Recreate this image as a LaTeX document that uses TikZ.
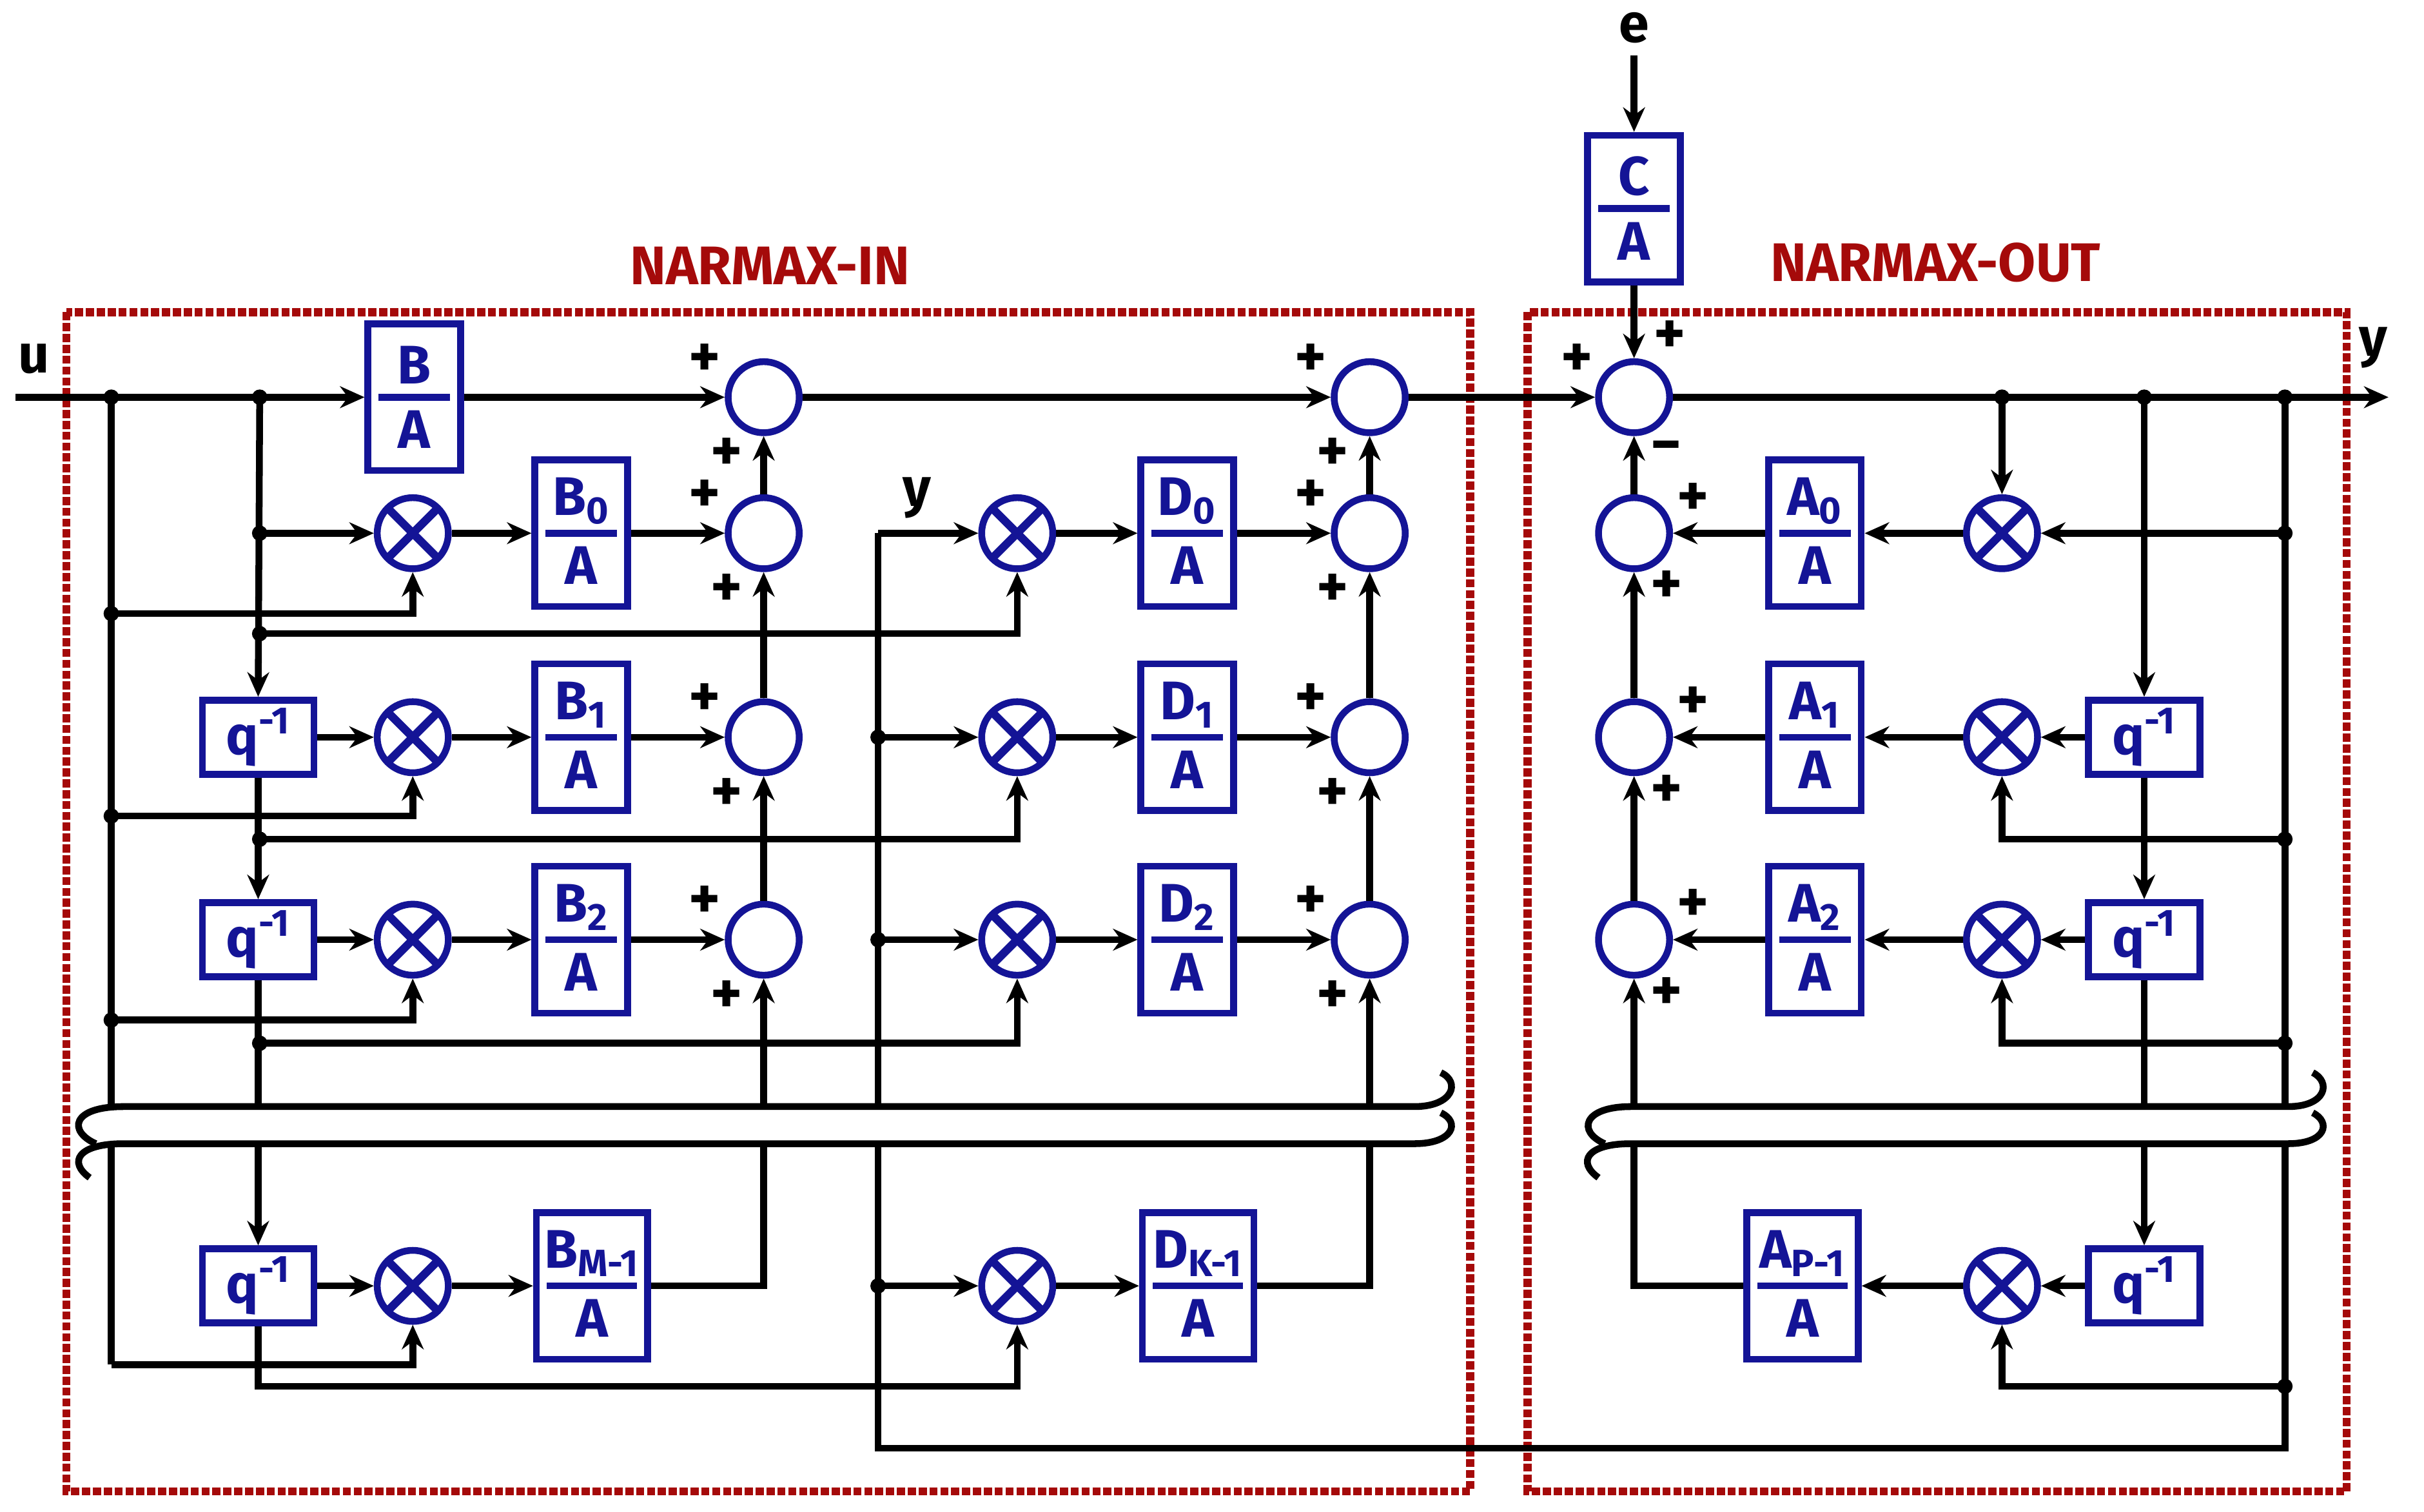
\documentclass[tikz,border=0pt]{standalone}
\usepackage{fontspec}
\setmainfont{Fira Sans}
\usetikzlibrary{arrows.meta}
\definecolor{bl}{RGB}{20,20,150}
\definecolor{rd}{RGB}{165,10,10}
\newcommand\fracbox[4]{%
 \node[box,minimum width=#4*0.02cm] (#1) at #2 {};
 \node[lab] at ([yshift=0.42cm]#1.center) {#3};
 \node[lab] at ([yshift=-0.42cm]#1.center) {A};
 \draw[bl,line width=2.5pt] ([xshift=0.18cm]#1.west) -- ([xshift=-0.18cm]#1.east);}
\begin{document}
\begin{tikzpicture}[x=0.02cm,y=-0.02cm,
 lab/.style={text=bl,font=\fontsize{20}{24}\selectfont\bfseries,inner sep=0},
 box/.style={draw=bl,line width=2.5pt,minimum height=1.9cm,fill=white,inner sep=0},
 qb/.style={draw=bl,line width=2.5pt,minimum width=1.44cm,minimum height=0.96cm,fill=white,text=bl,font=\fontsize{20}{24}\selectfont\bfseries,inner sep=0},
 sum/.style={circle,draw=bl,line width=2.5pt,minimum size=0.92cm,fill=white,inner sep=0},
 mul/.style={sum,path picture={\draw[bl,line width=3pt] (path picture bounding box.center) ++(45:0.46cm) -- ++(225:0.92cm) (path picture bounding box.center) ++(135:0.46cm) -- ++(-45:0.92cm);}},
 arr/.style={line width=2.5pt,-{Stealth[length=9pt,width=8pt]}},
 ln/.style={line width=2.5pt},
 dot/.style={circle,fill=black,minimum size=0.2cm,inner sep=0},
 pl/.style={font=\fontsize{22}{24}\selectfont\bfseries,inner sep=0},
 ttl/.style={text=rd,font=\fontsize{20}{24}\selectfont\bfseries}]
\useasboundingbox (0,0) rectangle (1568,978);
% frames
\draw[rd,line width=3pt,densely dotted] (43,202) rectangle (951,965);
\draw[rd,line width=3pt,densely dotted] (988,202) rectangle (1518,965);
\node[ttl] (t1) at (498,172) {NARMAX-IN};
\node[ttl] (t2) at (1252,170) {NARMAX-OUT};
% nodes
\foreach \r/\y in {0/257,1/345,2/477,3/608}{
 \node[sum] (sA\r) at (494,\y) {};
 \node[sum] (sB\r) at (886,\y) {};
 \node[sum] (sO\r) at (1057,\y) {};}
\foreach \r/\y in {1/345,2/477,3/608,4/832}{
 \node[mul] (mA\r) at (267,\y) {};
 \node[mul] (mB\r) at (658,\y) {};
 \node[mul] (mO\r) at (1295,\y) {};}
\foreach \r/\y in {2/477,3/608,4/832}{
 \node[qb] (qA\r) at (167,\y) {q\textsuperscript{-1}};
 \node[qb] (qO\r) at (1387,\y) {q\textsuperscript{-1}};}
\fracbox{bA0}{(268,257)}{B}{60}
\fracbox{bA1}{(376,345)}{B\textsubscript{0}}{60}
\fracbox{bA2}{(376,477)}{B\textsubscript{1}}{60}
\fracbox{bA3}{(376,608)}{B\textsubscript{2}}{60}
\fracbox{bA4}{(383,832)}{B\textsubscript{M-1}}{72}
\fracbox{bB1}{(768,345)}{D\textsubscript{0}}{60}
\fracbox{bB2}{(768,477)}{D\textsubscript{1}}{60}
\fracbox{bB3}{(768,608)}{D\textsubscript{2}}{60}
\fracbox{bB4}{(775,832)}{D\textsubscript{K-1}}{72}
\fracbox{bO1}{(1174,345)}{A\textsubscript{0}}{60}
\fracbox{bO2}{(1174,477)}{A\textsubscript{1}}{60}
\fracbox{bO3}{(1174,608)}{A\textsubscript{2}}{60}
\fracbox{bO4}{(1166,832)}{A\textsubscript{P-1}}{72}
\fracbox{bC}{(1057,135)}{C}{60}
% main line
\coordinate (uin) at (10,257); \coordinate (yout) at (1545,257);
\node[lab,text=black] (u) at (22,232) {u};
\node[lab,text=black] (yl) at (1535,225) {y};
\node[lab,text=black] (el) at (1057,18) {e};
\coordinate (e) at (1057,36);
\draw[arr] (uin) -- (bA0.west);
\draw[arr] (bA0.east) -- (sA0);
\draw[arr] (sA0) -- (sB0);
\draw[arr] (sB0) -- (sO0);
\draw[arr] (sO0) -- (yout);
\draw[arr] (e) -- (bC.north);
\draw[arr] (bC.south) -- (sO0);
% col1 delay chain
\draw[arr] (168,257) -- (qA2.north);
\draw[arr] (168,345) -- (mA1);
\draw[arr] (qA2.south) -- (qA3.north);
\draw[arr] (qA3.south) -- (qA4.north);
\draw[ln] (72,257) -- (72,883);
\draw[arr] (72,397) -| (mA1.south);
\draw[arr] (72,528) -| (mA2.south);
\draw[arr] (72,660) -| (mA3.south);
\draw[arr] (72,883) -| (mA4.south);
\draw[arr] (168,410) -| (mB1.south);
\draw[arr] (168,543) -| (mB2.south);
\draw[arr] (168,675) -| (mB3.south);
\draw[arr] (qA4.south) |- (400,897) -| (mB4.south);
\foreach \r in {2,3,4}{\draw[arr] (qA\r) -- (mA\r);}
\foreach \r in {1,2,3,4}{
 \draw[arr] (mA\r) -- (bA\r.west);
 \draw[arr] (mB\r) -- (bB\r.west);
 \draw[arr] (mO\r) -- (bO\r.east);}
\foreach \r in {1,2,3}{
 \draw[arr] (bA\r.east) -- (sA\r);
 \draw[arr] (bB\r.east) -- (sB\r);
 \draw[arr] (bO\r.west) -- (sO\r);}
\foreach \a/\b in {3/2,2/1,1/0}{
 \draw[arr] (sA\a) -- (sA\b);
 \draw[arr] (sB\a) -- (sB\b);
 \draw[arr] (sO\a) -- (sO\b);}
\draw[arr] (bA4.east) -| (sA3.south);
\draw[arr] (bB4.east) -| (sB3.south);
\draw[arr] (bO4.west) -| (sO3.south);
% y feedback
\node[lab,text=black] (yl2) at (593,322) {y};
\draw[arr] (568,345) -- (mB1);
\draw[ln] (568,345) -- (568,937) -- (1478,937) -- (1478,257);
\draw[arr] (568,477) -- (mB2);
\draw[arr] (568,608) -- (mB3);
\draw[arr] (568,832) -- (mB4);
% out section
\draw[arr] (1295,257) -- (mO1.north);
\draw[arr] (1387,257) -- (qO2.north);
\draw[arr] (qO2.south) -- (qO3.north);
\draw[arr] (qO3.south) -- (qO4.north);
\foreach \r in {2,3,4}{\draw[arr] (qO\r) -- (mO\r);}
\draw[arr] (1478,345) -- (mO1);
\draw[arr] (1478,543) -| (mO2.south);
\draw[arr] (1478,675) -| (mO3.south);
\draw[arr] (1478,897) -| (mO4.south);
% dots
\foreach \p in {(72,257),(168,257),(168,345),(72,397),(168,410),(72,528),(168,543),(72,660),(168,675),
 (568,477),(568,608),(568,832),(1295,257),(1387,257),(1478,257),(1478,345),(1478,543),(1478,675),(1478,897)}
 \node[dot] at \p {};
% breaks
\fill[white] (48,716) rectangle (938,740);
\fill[white] (1025,716) rectangle (1502,740);
\draw[ln] (62,740) .. controls (44,732) and (46,716) .. (80,716) -- (915,716) .. controls (940,716) and (945,700) .. (932,694);
\draw[ln] (58,762) .. controls (44,752) and (50,740) .. (80,740) -- (915,740) .. controls (940,740) and (945,726) .. (932,720);
\draw[ln] (1038,740) .. controls (1020,732) and (1024,716) .. (1055,716) -- (1480,716) .. controls (1505,716) and (1508,700) .. (1496,694);
\draw[ln] (1034,762) .. controls (1020,752) and (1026,740) .. (1055,740) -- (1480,740) .. controls (1505,740) and (1508,726) .. (1496,720);
% signs
\foreach \x in {494,886}{\foreach \y in {257,345,477,608}{
 \node[pl] at (\x-38,\y-24) {+}; \node[pl] at (\x-24,\y+37) {+};}}
\node[pl] at (1020,233) {+};
\node[pl] at (1080,218) {+};
\node[pl] at (1078,293) {\textminus};
\foreach \y in {345,477,608}{\node[pl] at (1095,\y-22) {+}; \node[pl] at (1078,\y+35) {+};}
\end{tikzpicture}
\end{document}
